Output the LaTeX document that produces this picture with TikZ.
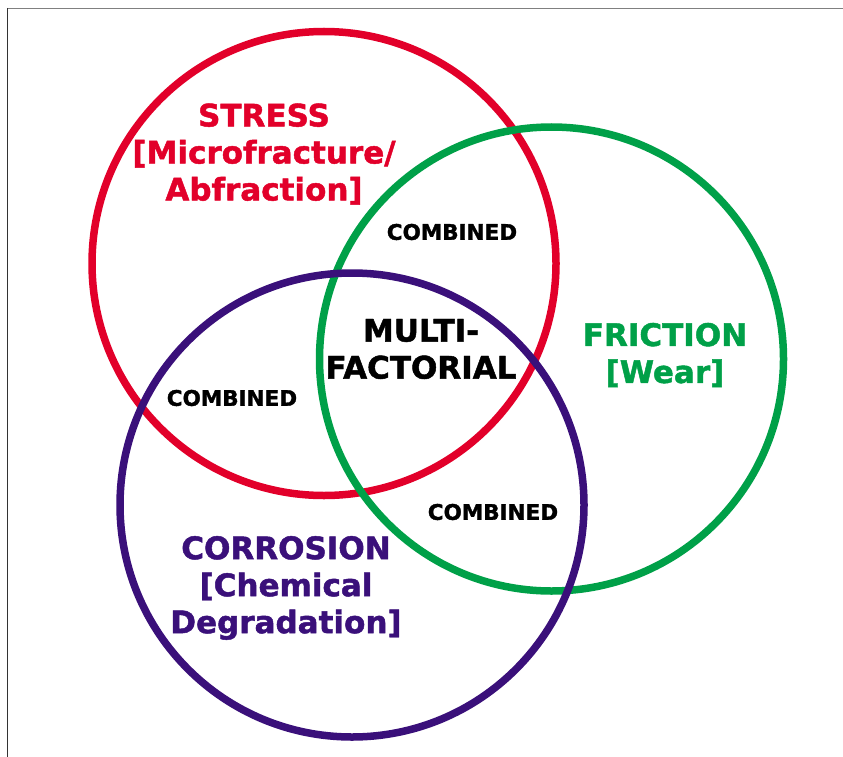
\documentclass[tikz,border=0pt]{standalone}
\usepackage{fontspec}
\setmainfont{DejaVu Sans}[BoldFeatures={FakeBold=1.5}]
\usetikzlibrary{positioning}
\definecolor{stressred}{RGB}{226,0,42}
\definecolor{frictiongreen}{RGB}{0,160,72}
\definecolor{corrosionpurple}{RGB}{58,16,122}
\begin{document}
\begin{tikzpicture}[x=1pt, y=-1pt,
				ring/.style = {line width = 7.5pt},
				factor/.style = {align = center, font = \fontsize{31}{37}\selectfont\bfseries},
				combined/.style = {font = \fontsize{21.5}{24}\selectfont\bfseries},
			]
			\useasboundingbox (0,0) rectangle (843,757);
			\draw[gray, line width = 1.5pt] (7,8.5) -- (843,8.5);
			\draw[black!80, line width = 1pt] (7.5,8) -- (7.5,757);

			\coordinate(S) at (324,263.5);
			\coordinate(F) at (551.5,359);
			\coordinate(C) at (352,505);

			\draw[ring, stressred](S) circle (232);
			\draw[ring, frictiongreen](F) circle (232);
			\draw[ring, corrosionpurple](C) circle (232);

			\node[factor, stressred](stress) at (264,154){STRESS\\{}[Microfracture/\\Abfraction]};
			\node[factor, frictiongreen](friction) at (665,355){FRICTION\\{}[Wear]};
			\node[factor, corrosionpurple](corrosion) at (286,588){CORROSION\\{}[Chemical\\Degradation]};
			\node[factor](multi) at (421,349){MULTI-\\FACTORIAL};

			\node[combined](SF) at (452,232){COMBINED};
			\node[combined](SC) at (232,398){COMBINED};
			\node[combined](FC) at (493,512){COMBINED};

		\end{tikzpicture}
\end{document}
